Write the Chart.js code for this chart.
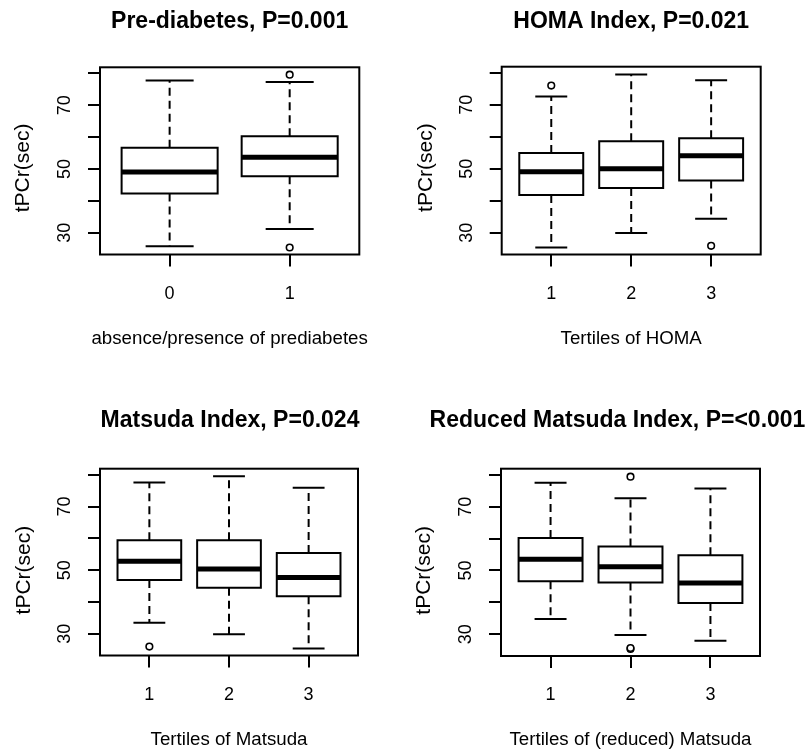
<!DOCTYPE html>
<html>
<head>
<meta charset="utf-8">
<script src="https://cdn.jsdelivr.net/npm/chart.js@4.4.1/dist/chart.umd.min.js"></script>
<style>
html, body { margin:0; padding:0; background:#fff; width:811px; height:749px; overflow:hidden; position:relative; }
canvas { position:absolute; }
</style>
</head>
<body>
<canvas id="c1" width="405" height="400" style="left:0px;top:0px"></canvas>
<canvas id="c2" width="406" height="400" style="left:405px;top:0px"></canvas>
<canvas id="c3" width="405" height="400" style="left:0px;top:370px"></canvas>
<canvas id="c4" width="406" height="400" style="left:405px;top:370px"></canvas>
<script>
// ---------- shared axis data ----------
const yTickValues = [30, 40, 50, 60, 70, 80];
const yTickLabels = ['30', '', '50', '', '70', ''];
const yAxisTitle = 'tPCr(sec)';

// ---------- Panel 1: Pre-diabetes ----------
const p1Title = 'Pre-diabetes, P=0.001';
const p1XTitle = 'absence/presence of prediabetes';
const p1Categories = ['0', '1'];
const p1Low    = [25.8, 31.2];
const p1Q1     = [42.3, 47.7];
const p1Median = [49.1, 53.7];
const p1Q3     = [56.7, 60.3];
const p1High   = [77.8, 77.3];
const p1Outliers = [[], [79.6, 25.4]];

// ---------- Panel 2: HOMA ----------
const p2Title = 'HOMA Index, P=0.021';
const p2XTitle = 'Tertiles of HOMA';
const p2Categories = ['1', '2', '3'];
const p2Low    = [25.4, 29.9, 34.4];
const p2Q1     = [41.8, 44.0, 46.3];
const p2Median = [49.1, 50.0, 54.1];
const p2Q3     = [54.9, 58.6, 59.5];
const p2High   = [72.6, 79.5, 77.7];
const p2Outliers = [[76.0], [], [25.9]];

// ---------- Panel 3: Matsuda ----------
const p3Title = 'Matsuda Index, P=0.024';
const p3XTitle = 'Tertiles of Matsuda';
const p3Categories = ['1', '2', '3'];
const p3Low    = [33.5, 29.9, 25.4];
const p3Q1     = [46.9, 44.5, 41.8];
const p3Median = [52.8, 50.4, 47.7];
const p3Q3     = [59.4, 59.4, 55.4];
const p3High   = [77.6, 79.5, 75.9];
const p3Outliers = [[26.0], [], []];

// ---------- Panel 4: Reduced Matsuda ----------
const p4Title = 'Reduced Matsuda Index, P=<0.001';
const p4XTitle = 'Tertiles of (reduced) Matsuda';
const p4Categories = ['1', '2', '3'];
const p4Low    = [34.8, 29.8, 28.0];
const p4Q1     = [46.6, 46.2, 39.8];
const p4Median = [53.5, 51.2, 46.1];
const p4Q3     = [60.2, 57.5, 54.8];
const p4High   = [77.5, 72.6, 75.7];
const p4Outliers = [[], [79.4, 25.4, 25.7], []];

// ---------- layout (positions / sizes only) ----------
const FONT = '"Liberation Sans", Arial, Helvetica, sans-serif';
const CANVAS_H = 400;
const layouts = [
  { id:'c1', w:405, plotLeft:100,  plotTop:67.3, plotRight:359.3, plotBottom:254.5, titleY:21.5, titleShift:0,   yTitleX:23, yTitleShift:7, xTitleY:338.5 },
  { id:'c2', w:406, plotLeft:96.7, plotTop:66.7, plotRight:355.7, plotBottom:254.5, titleY:21.5, titleShift:0,   yTitleX:21, yTitleShift:7, xTitleY:338.5 },
  { id:'c3', w:405, plotLeft:100,  plotTop:98.7, plotRight:358,   plotBottom:285.5, titleY:51,   titleShift:1,   yTitleX:24, yTitleShift:8, xTitleY:369.5 },
  { id:'c4', w:406, plotLeft:96,   plotTop:98.7, plotRight:355,   plotBottom:286,   titleY:51,   titleShift:-13, yTitleX:19, yTitleShift:8, xTitleY:369.5 }
];

const panels = [
  { title:p1Title, xTitle:p1XTitle, cats:p1Categories, low:p1Low, q1:p1Q1, med:p1Median, q3:p1Q3, high:p1High, outliers:p1Outliers },
  { title:p2Title, xTitle:p2XTitle, cats:p2Categories, low:p2Low, q1:p2Q1, med:p2Median, q3:p2Q3, high:p2High, outliers:p2Outliers },
  { title:p3Title, xTitle:p3XTitle, cats:p3Categories, low:p3Low, q1:p3Q1, med:p3Median, q3:p3Q3, high:p3High, outliers:p3Outliers },
  { title:p4Title, xTitle:p4XTitle, cats:p4Categories, low:p4Low, q1:p4Q1, med:p4Median, q3:p4Q3, high:p4High, outliers:p4Outliers }
];

// frame (box around plot region), main title, x-axis title and y-axis title
const framePlugin = {
  id: 'frame',
  afterDraw(chart, args, opts) {
    const { ctx, chartArea: a } = chart;
    const cx = (a.left + a.right) / 2;
    ctx.save();
    ctx.strokeStyle = '#000';
    ctx.lineWidth = 2;
    ctx.strokeRect(a.left, a.top, a.right - a.left, a.bottom - a.top);
    ctx.fillStyle = '#000';
    ctx.textAlign = 'center';
    ctx.textBaseline = 'middle';
    // main title
    ctx.font = 'bold 23px ' + FONT;
    ctx.fillText(opts.text, cx + opts.shift, opts.y);
    // x-axis title
    ctx.font = '18.7px ' + FONT;
    ctx.fillText(opts.xTitle, cx, opts.xTitleY);
    // y-axis title, rotated, reading bottom to top
    ctx.font = '21px ' + FONT;
    ctx.translate(opts.yTitleX, (a.top + a.bottom) / 2 + opts.yTitleShift);
    ctx.rotate(-Math.PI / 2);
    ctx.fillText(opts.yTitle, 0, 0);
    ctx.restore();
  }
};

function lineSet(data, width, dash) {
  return {
    type: 'line', data, borderColor: '#000', borderWidth: width, borderDash: dash || [],
    pointRadius: 0, pointHoverRadius: 0, fill: false, tension: 0, spanGaps: false,
    borderCapStyle: 'butt', borderJoinStyle: 'miter'
  };
}

function makePanel(L, P) {
  const n = P.cats.length;
  const half = 0.4, cap = 0.2;
  const boxes = [], meds = [], whiskers = [], caps = [], outs = [];
  P.cats.forEach((c, i) => {
    const x = i + 1;
    boxes.push({x:x, y:P.q1[i]}, {x:x+half, y:P.q1[i]}, {x:x+half, y:P.q3[i]},
               {x:x-half, y:P.q3[i]}, {x:x-half, y:P.q1[i]}, {x:x, y:P.q1[i]}, {x:x, y:null});
    meds.push({x:x-half, y:P.med[i]}, {x:x+half, y:P.med[i]}, {x:x, y:null});
    whiskers.push({x:x, y:P.q1[i]}, {x:x, y:P.low[i]}, {x:x, y:null},
                  {x:x, y:P.q3[i]}, {x:x, y:P.high[i]}, {x:x, y:null});
    caps.push({x:x-cap, y:P.low[i]}, {x:x+cap, y:P.low[i]}, {x:x, y:null},
              {x:x-cap, y:P.high[i]}, {x:x+cap, y:P.high[i]}, {x:x, y:null});
    P.outliers[i].forEach(v => outs.push({x:x, y:v}));
  });

  const outlierSet = {
    type: 'line', data: outs, showLine: false, pointStyle: 'circle',
    pointRadius: 3.3, pointHoverRadius: 3.3, pointBorderWidth: 1.6,
    pointBackgroundColor: '#fff', pointBorderColor: '#000', borderColor: '#000'
  };

  const tickFont = { family: FONT, size: 18 };
  const grid = { display: true, drawOnChartArea: false, drawTicks: true, tickLength: 12, color: '#000', lineWidth: 2 };

  new Chart(document.getElementById(L.id), {
    type: 'line',
    data: { datasets: [ lineSet(whiskers, 2, [8, 5]), lineSet(caps, 2), lineSet(boxes, 2), lineSet(meds, 5), outlierSet ] },
    options: {
      responsive: false, animation: false, events: [],
      layout: { padding: { left: 0, top: L.plotTop, right: L.w - L.plotRight, bottom: 0 } },
      plugins: {
        legend: { display: false }, tooltip: { enabled: false }, title: { display: false },
        frame: { text: P.title, y: L.titleY, shift: L.titleShift,
                 xTitle: P.xTitle, xTitleY: L.xTitleY,
                 yTitle: yAxisTitle, yTitleX: L.yTitleX, yTitleShift: L.yTitleShift }
      },
      scales: {
        x: {
          type: 'linear', min: 0.5 - 0.04 * n, max: n + 0.5 + 0.04 * n,
          afterBuildTicks: s => { s.ticks = P.cats.map((c, i) => ({ value: i + 1 })); },
          afterFit: s => { s.height = CANVAS_H - L.plotBottom; },
          ticks: { autoSkip: false, minRotation: 0, maxRotation: 0, padding: 16.5, color: '#000', font: tickFont,
                   callback: v => P.cats[Math.round(v) - 1] },
          grid: grid, border: { display: false },
          title: { display: false }
        },
        y: {
          type: 'linear', min: 23.2, max: 81.9,
          afterBuildTicks: s => { s.ticks = yTickValues.map(v => ({ value: v })); },
          afterFit: s => { s.width = L.plotLeft; },
          ticks: { autoSkip: false, minRotation: 90, maxRotation: 90, crossAlign: 'center', padding: 12.5,
                   color: '#000', font: tickFont,
                   callback: v => yTickLabels[yTickValues.indexOf(v)] },
          grid: grid, border: { display: false },
          title: { display: false }
        }
      }
    },
    plugins: [framePlugin]
  });
}

layouts.forEach((L, i) => makePanel(L, panels[i]));
</script>
</body>
</html>
